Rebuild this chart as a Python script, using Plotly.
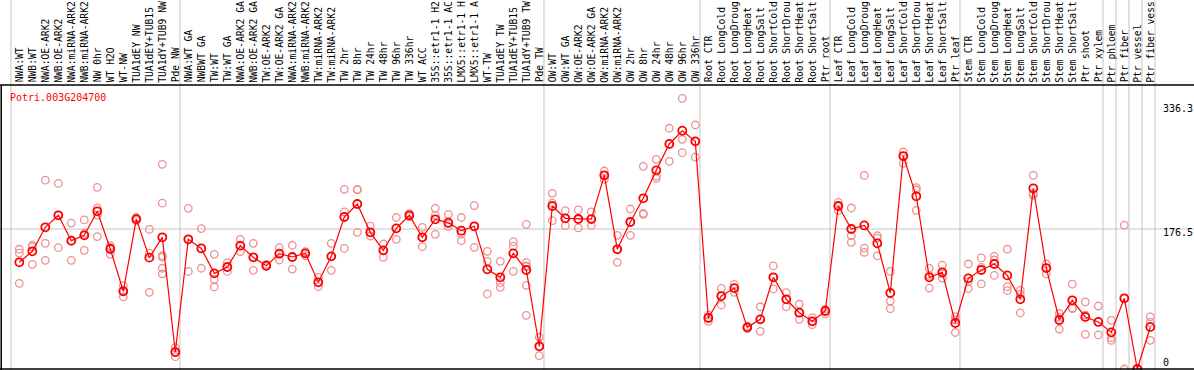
import plotly.graph_objects as go

gene_name = "Potri.003G204700"

# category labels as they appear (the reference shows at most 14 characters)
categories = [
    "NWA:WT", "NWB:WT", "NWA:OE-ARK2", "NWB:OE-ARK2", "NWA:miRNA-ARK2", "NWB:miRNA-ARK2",
    "NW 0hr", "WT H2O", "WT-NW", "TUA1dEY NW", "TUA1dEY+TUB15", "TUA1dY+TUB9 NW", "Pde NW",
    "NWA:WT GA", "NWBWT GA", "TW:WT", "TW:WT GA", "NWA:OE-ARK2 GA", "NWB:OE-ARK2 GA",
    "TW:OE-ARK2", "TW:OE-ARK2 GA", "NWA:miRNA-ARK2", "NWB:miRNA-ARK2", "TW:miRNA-ARK2",
    "TW:miRNA-ARK2", "TW 2hr", "TW 8hr", "TW 24hr", "TW 48hr", "TW 96hr", "TW 336hr", "WT ACC",
    "35S::etr1-1 H2", "35S::etr1-1 AC", "LMX5::etr1-1 H", "LMX5::etr1-1 A", "WT-TW",
    "TUA1dEY TW", "TUA1dEY+TUB15", "TUA1dY+TUB9 TW", "Pde TW",
    "OW:WT", "OW:WT GA", "OW:OE-ARK2", "OW:OE-ARK2 GA", "OW:miRNA-ARK2", "OW:miRNA-ARK2",
    "OW 2hr", "OW 8hr", "OW 24hr", "OW 48hr", "OW 96hr", "OW 336hr",
    "Root CTR", "Root LongCold", "Root LongDroug", "Root LongHeat", "Root LongSalt",
    "Root ShortCold", "Root ShortDrou", "Root ShortHeat", "Root ShortSalt", "Ptr root",
    "Leaf CTR", "Leaf LongCold", "Leaf LongDroug", "Leaf LongHeat", "Leaf LongSalt",
    "Leaf ShortCold", "Leaf ShortDrou", "Leaf ShortHeat", "Leaf ShortSalt", "Ptr leaf",
    "Stem CTR", "Stem LongCold", "Stem LongDroug", "Stem LongHeat", "Stem LongSalt",
    "Stem ShortCold", "Stem ShortDrou", "Stem ShortHeat", "Stem ShortSalt", "Ptr shoot",
    "Ptr xylem", "Ptr phloem", "Ptr fiber", "Ptr vessel", "Ptr fiber vess",
]

means = [
    134.5, 148.4, 178.6, 193.8, 161.8, 168.5, 198.8, 151.3, 98, 189, 140.4, 166, 21.4,
    163.5, 152, 120.6, 128.6, 155.5, 140.8, 130.3, 145.4, 141.2, 145.8, 109.3, 142,
    191.6, 208, 172.3, 149.6, 177.3, 193.8, 166, 188.7, 184.5, 174.4, 179.9, 125.7,
    115.6, 145.8, 124.8, 28.6,
    205.5, 190, 189.1, 189, 244.2, 150.9, 185.3, 215.2, 250.5, 283.7, 300.4, 287,
    64.3, 92, 102, 52.5, 62.6, 115.6, 87.9, 71, 60.1, 73.1,
    205.5, 176.5, 181, 158.5, 95.8, 268.5, 217.7, 115.6, 121.9, 58,
    114.3, 124.8, 132.4, 118, 87.9, 227.8, 127.3, 61.8, 86.6, 65.6,
    59.3, 46.2, 89.1, 0, 53,
]

replicates = [
    [151, 146, 108], [156, 154, 132], [238, 158.5, 137], [234, 194, 153],
    [184, 161, 137], [188, 171, 149.6], [229, 203, 194, 167], [155.5, 153.4, 144.6],
    [105, 98, 91], [191, 189, 187], [176, 146, 96.7], [258, 209, 143, 141, 127, 120],
    [27, 21, 15.5],
    [202.6, 163.5, 123], [177, 152, 127], [144.6, 113, 103.4], [134, 128.6, 123],
    [163.5, 155.5, 148], [158.5, 140.8, 124.4], [132, 130, 129], [153, 145.4, 137.4],
    [156, 141, 126], [148, 146, 143], [115.6, 109.3, 103.8], [158.5, 142, 124.4],
    [226.5, 198, 152], [226.5, 225.7, 172.3], [180, 172, 167.7], [157.6, 149.6, 140.8],
    [191, 177.3, 163.5], [196, 194, 192], [178.6, 166, 154.2], [202.6, 194, 169.8],
    [195, 183, 179.4], [191, 170, 161.8], [206, 180, 153.4], [148.4, 135.8, 94.6],
    [135.8, 108.8, 103], [160.5, 155, 123.2], [182.4, 134, 130, 129, 105.5, 67.7],
    [40, 28.6, 16.8],
    [221.5, 209, 187], [199.6, 190, 180.7], [200.5, 189, 177.8], [198, 189, 181],
    [249.6, 244, 239], [168.5, 151, 134.5], [201.7, 185.3, 168.5], [255.5, 196.3, 195],
    [264.4, 243.3, 240.4], [303.5, 283.7, 261.8], [341.3, 289.6, 272.7], [307.6, 287, 267],
    [68, 65, 60], [101.7, 92, 80.7], [106.8, 102, 96.7], [54, 52.5, 51],
    [78.5, 62.6, 47.5], [130, 115.6, 101], [96.2, 87.9, 78.5], [81.6, 71, 62.6],
    [64.7, 60.1, 55.9], [75.6, 73.1, 69.4],
    [210, 205.5, 199.6], [203, 168, 159.7], [244, 152.5, 147], [168, 165, 142.5],
    [123.2, 85.7, 76], [273.6, 268.5, 259.3], [228.6, 226, 200], [127, 118, 102],
    [131, 120, 114.7], [66, 62, 46],
    [132.4, 110, 101.2], [140, 128.2, 107.2], [142, 137.4, 118], [151, 103.8, 98.7],
    [99, 94, 70.7], [244.2, 221.5, 219], [132.4, 127.3, 119.8], [70, 65, 50.4],
    [107, 77, 76], [84.5, 68, 43.7],
    [79.4, 59.3, 42.9], [61.4, 39.5, 36.2], [181.5, 89, 0], [0, 0, 0], [65.6, 58.9, 36.2],
]

# group separators: drawn before the first category and after these indices
group_ends = [-1, 12, 40, 52, 62, 72, 83, 84, 85, 86, 87]
y_tick_values = [336.3, 176.5, 0]
y_tick_labels = ["336.3", "176.5", "0"]

W, H = 1194, 370
FONT = "DejaVu Sans Mono"
RED = "#FF0000"
PINK = "#EE9090"
GRID = "#C4C4C4"

xs = list(range(len(categories)))
rep_x, rep_y = [], []
for i, reps in enumerate(replicates):
    for v in reps:
        rep_x.append(i)
        rep_y.append(v)

fig = go.Figure()
fig.add_trace(go.Scatter(
    x=rep_x, y=rep_y, mode="markers",
    marker=dict(symbol="circle-open", size=7.5, color=PINK, line=dict(width=1.3, color=PINK)),
    hoverinfo="skip", showlegend=False,
))
fig.add_trace(go.Scatter(
    x=xs, y=means, mode="lines+markers",
    line=dict(color=RED, width=1.2),
    marker=dict(symbol="circle-open", size=8, color=RED, line=dict(width=1.8, color=RED)),
    text=categories, showlegend=False,
))

shapes = []
for g in group_ends:
    shapes.append(dict(type="line", xref="x", yref="paper", x0=g + 0.36, x1=g + 0.36,
                       y0=0, y1=1, line=dict(color=GRID, width=1), layer="below"))
shapes.append(dict(type="line", xref="paper", yref="y", x0=0, x1=1,
                   y0=y_tick_values[1], y1=y_tick_values[1],
                   line=dict(color=GRID, width=1), layer="below"))
top_frac = 1 - 85 / H
shapes.append(dict(type="line", xref="paper", yref="paper", x0=0, x1=1, y0=top_frac, y1=top_frac,
                   line=dict(color="black", width=1.5)))
shapes.append(dict(type="line", xref="paper", yref="paper", x0=1.2 / W, x1=1.2 / W, y0=0, y1=top_frac,
                   line=dict(color="black", width=1.5)))
shapes.append(dict(type="line", xref="paper", yref="paper", x0=0, x1=1, y0=1 / H, y1=1 / H,
                   line=dict(color="black", width=1.5)))

annotations = []
for i, c in enumerate(categories):
    annotations.append(dict(x=i, y=top_frac + 1.5 / H, xref="x", yref="paper", text=c,
                            textangle=-90, xanchor="center", yanchor="bottom", showarrow=False,
                            borderpad=0, font=dict(family=FONT, size=9.7, color="black")))
annotations.append(dict(x=9 / W, y=1 - 97.5 / H, xref="paper", yref="paper", text=gene_name,
                        xanchor="left", yanchor="middle", showarrow=False, borderpad=0,
                        font=dict(family=FONT, size=10, color=RED)))
shifts = [-6, -3, 7]
for v, lab, s in zip(y_tick_values, y_tick_labels, shifts):
    annotations.append(dict(x=1162 / W, y=v, xref="paper", yref="y", text=lab, yshift=s,
                            xanchor="left", yanchor="middle", showarrow=False, borderpad=0,
                            font=dict(family=FONT, size=10, color="black")))

# pixel mapping: category i at x = 19.3 + 13*i ; value v at y = 369 - 0.7932*v
x_lo = -19.3 / 13
x_hi = (W - 19.3) / 13
y_lo = (369 - H) / 0.7932
y_hi = 369 / 0.7932

fig.update_layout(
    width=W, height=H,
    margin=dict(l=0, r=0, t=0, b=0),
    paper_bgcolor="white", plot_bgcolor="white",
    xaxis=dict(range=[x_lo, x_hi], visible=False, domain=[0, 1]),
    yaxis=dict(range=[y_lo, y_hi], visible=False, domain=[0, 1]),
    shapes=shapes, annotations=annotations,
    showlegend=False,
)

fig.write_html("out.html", config={"displayModeBar": False},
               post_script="document.body.style.margin='0';document.body.style.overflow='hidden';")
